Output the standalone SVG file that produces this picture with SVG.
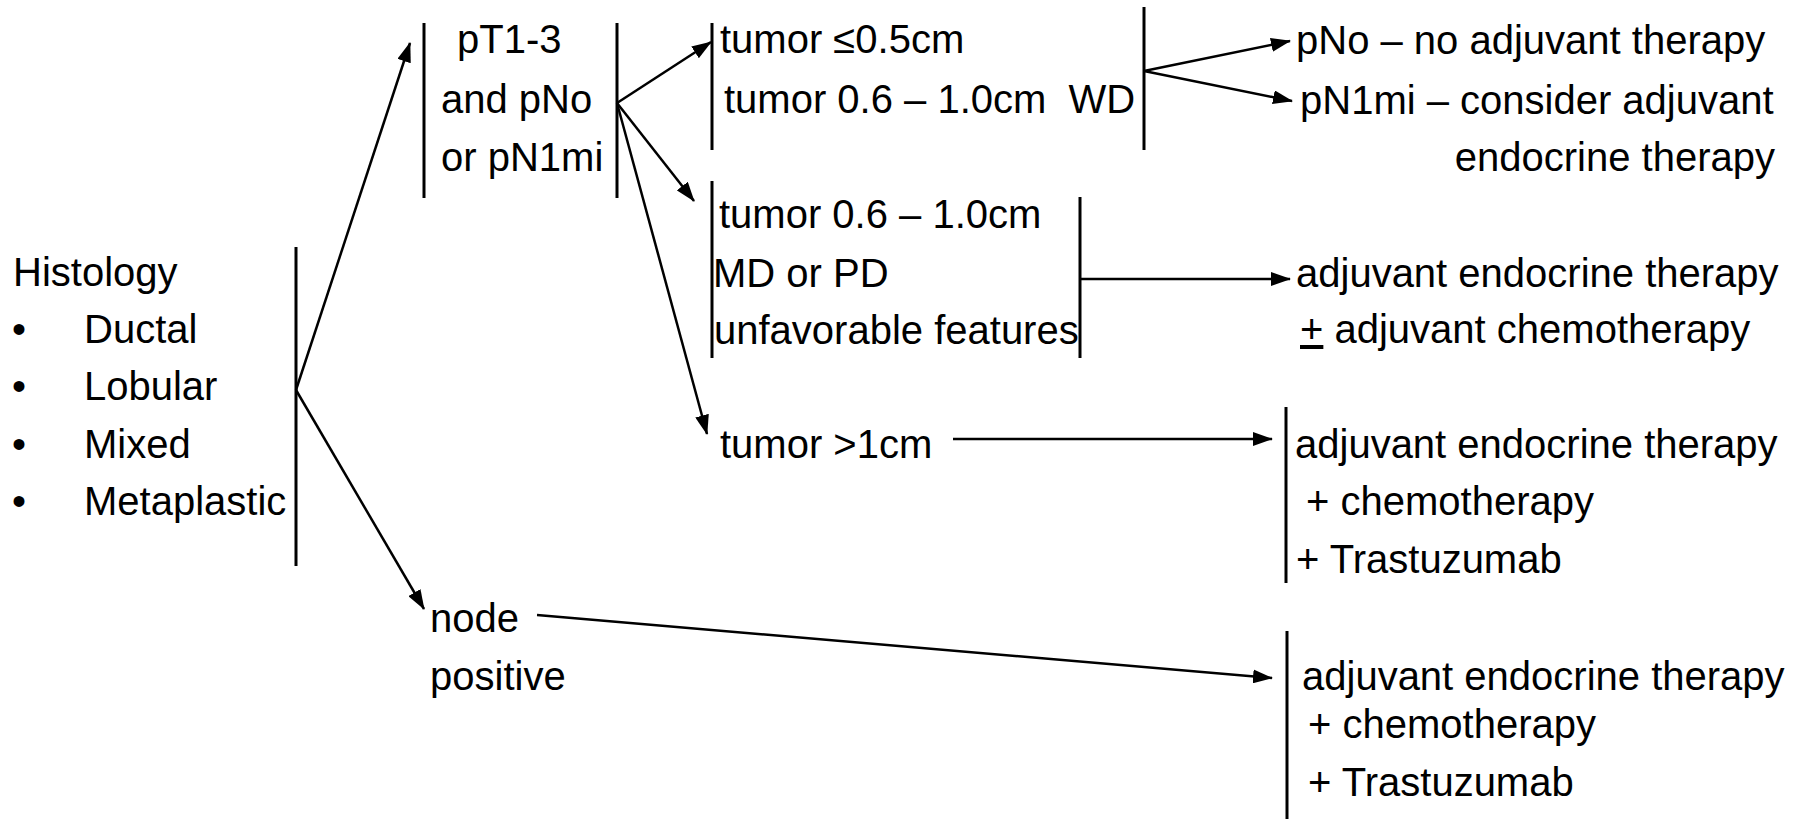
<svg xmlns="http://www.w3.org/2000/svg" width="1799" height="819" viewBox="0 0 1799 819">
<style>
text{font-family:"Liberation Sans",Arial,sans-serif;font-size:40px;fill:#000;white-space:pre}
.bar{stroke:#000;stroke-width:3;fill:none}
.con{stroke:#000;stroke-width:2.5;fill:none;marker-end:url(#ah)}
</style>
<defs>
<marker id="ah" markerUnits="userSpaceOnUse" markerWidth="20" markerHeight="14" refX="19" refY="7" orient="auto">
<path d="M0,0 L20,7 L0,14 z" fill="#000"/>
</marker>
</defs>
<rect width="1799" height="819" fill="#fff"/>
<g id="histology">
<text x="13" y="286">Histology</text>
<text x="12" y="343">•</text><text x="84" y="343">Ductal</text>
<text x="12" y="400">•</text><text x="84" y="400">Lobular</text>
<text x="12" y="458">•</text><text x="84" y="458">Mixed</text>
<text x="12" y="515">•</text><text x="84" y="515">Metaplastic</text>
<line class="bar" x1="296" y1="247" x2="296" y2="566"/>
</g>
<g id="pT13">
<line class="bar" x1="424" y1="23" x2="424" y2="198"/>
<text x="457" y="53">pT1-3</text>
<text x="441" y="113">and pNo</text>
<text x="441" y="171">or pN1mi</text>
<line class="bar" x1="617" y1="23" x2="617" y2="198"/>
</g>
<g id="small">
<line class="bar" x1="712" y1="23" x2="712" y2="150"/>
<text x="720" y="53">tumor ≤0.5cm</text>
<text x="724" y="113">tumor 0.6 – 1.0cm  WD</text>
<line class="bar" x1="1144" y1="7" x2="1144" y2="150"/>
</g>
<g id="res-small">
<text x="1296" y="54">pNo – no adjuvant therapy</text>
<text x="1300" y="114">pN1mi – consider adjuvant</text>
<text x="1775" y="171" text-anchor="end">endocrine therapy</text>
</g>
<g id="mid">
<line class="bar" x1="712" y1="181" x2="712" y2="358"/>
<text x="719" y="228">tumor 0.6 – 1.0cm</text>
<text x="713" y="287">MD or PD</text>
<text x="714" y="344">unfavorable features</text>
<line class="bar" x1="1080" y1="197" x2="1080" y2="358"/>
</g>
<g id="res-mid">
<text x="1296" y="287">adjuvant endocrine therapy</text>
<text x="1300" y="343"><tspan text-decoration="underline">+</tspan> adjuvant chemotherapy</text>
</g>
<g id="large">
<text x="720" y="458">tumor &gt;1cm</text>
</g>
<g id="res-large">
<line class="bar" x1="1286" y1="407" x2="1286" y2="583"/>
<text x="1295" y="458">adjuvant endocrine therapy</text>
<text x="1306" y="515">+ chemotherapy</text>
<text x="1296" y="573">+ Trastuzumab</text>
</g>
<g id="nodepos">
<text x="430" y="632">node</text>
<text x="430" y="690">positive</text>
</g>
<g id="res-node">
<line class="bar" x1="1287" y1="631" x2="1287" y2="819"/>
<text x="1302" y="690">adjuvant endocrine therapy</text>
<text x="1308" y="738">+ chemotherapy</text>
<text x="1308" y="796">+ Trastuzumab</text>
</g>
<g id="connectors">
<line class="con" x1="296" y1="390" x2="410" y2="43"/>
<line class="con" x1="296" y1="390" x2="424" y2="609"/>
<line class="con" x1="617" y1="103" x2="711" y2="42"/>
<line class="con" x1="617" y1="103" x2="694" y2="201"/>
<line class="con" x1="617" y1="103" x2="707" y2="434"/>
<line class="con" x1="1144" y1="71" x2="1290" y2="41"/>
<line class="con" x1="1144" y1="71" x2="1292" y2="101"/>
<line class="con" x1="1080" y1="279" x2="1290" y2="279"/>
<line class="con" x1="953" y1="439" x2="1272" y2="439"/>
<line class="con" x1="537" y1="615" x2="1272" y2="678"/>
</g>
</svg>
